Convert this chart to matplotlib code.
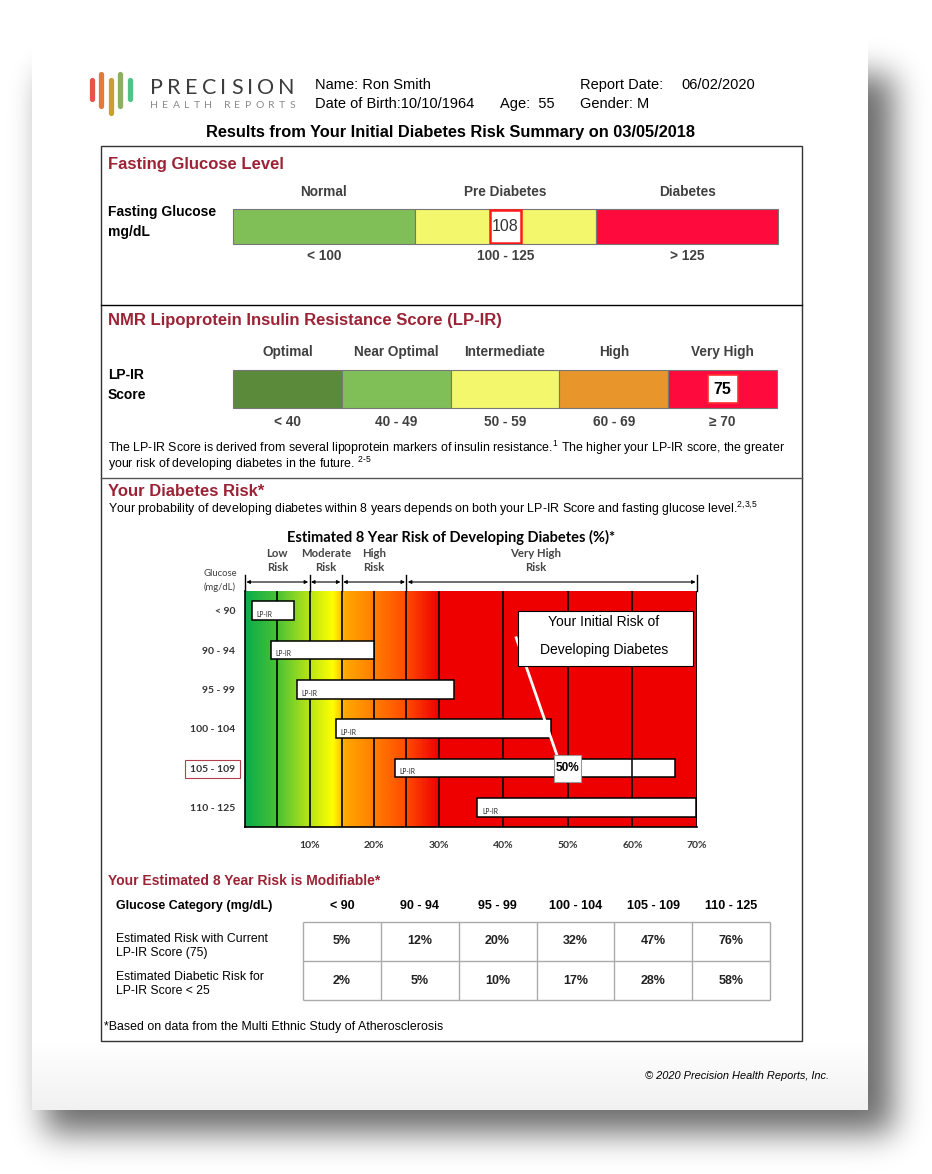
import numpy as np
import matplotlib
matplotlib.use('Agg')
import matplotlib.pyplot as plt
import matplotlib.patches as mpatches
import matplotlib.transforms as mtransforms
from matplotlib.colors import LinearSegmentedColormap

W, H = 932, 1174

# header data
patient_name = 'Ron Smith'
birth_date = '10/10/1964'
age = 55
report_date = '06/02/2020'
gender = 'M'
summary_date = '03/05/2018'

# fasting glucose gauge
glucose_cats = ['Normal', 'Pre Diabetes', 'Diabetes']
glucose_ranges = ['< 100', '100 - 125', '> 125']
glucose_colors = ['#80bf58', '#f2f76c', '#ff0a3c']
glucose_limits = [100, 126]
glucose_value = 108

# LP-IR gauge
lpir_cats = ['Optimal', 'Near Optimal', 'Intermediate', 'High', 'Very High']
lpir_ranges = ['< 40', '40 - 49', '50 - 59', '60 - 69', '\u2265 70']
lpir_colors = ['#5b8a3b', '#80bf58', '#f2f76c', '#e8952b', '#ff0a3c']
lpir_limits = [40, 50, 60, 70]
lpir_value = 75

# risk chart (% risk range of each glucose group)
risk_rows = ['< 90', '90 - 94', '95 - 99', '100 - 104', '105 - 109', '110 - 125']
risk_low = [1.1, 4.0, 8.0, 14.1, 23.2, 36.0]
risk_high = [7.6, 20.0, 32.3, 47.4, 66.6, 69.9]
risk_ticks = [10, 20, 30, 40, 50, 60, 70]
grid_pcts = [5, 10, 15, 20, 25, 30, 40, 50, 60, 70]
band_names = ['Low\nRisk', 'Moderate\nRisk', 'High\nRisk', 'Very High\nRisk']
band_edges = [0, 10, 15, 25, 70]
band_label_x = [5, 12.5, 20, 45]
patient_row = 4
patient_risk = 50

# modifiable risk table
risk_current = [5, 12, 20, 32, 47, 76]
risk_low_lpir = [2, 5, 10, 17, 28, 58]
table_rows = ['Estimated Risk with Current\nLP-IR Score (75)',
              'Estimated Diabetic Risk for\nLP-IR Score < 25']

plt.rcParams['font.family'] = ['Liberation Sans', 'DejaVu Sans']
plt.rcParams['mathtext.fontset'] = 'custom'
plt.rcParams['mathtext.rm'] = 'Liberation Sans'
plt.rcParams['mathtext.it'] = 'Liberation Sans:italic'
plt.rcParams['mathtext.bf'] = 'Liberation Sans:bold'
CAL = ['Lato', 'DejaVu Sans']
RED_T = '#9b2335'
GREY_T = '#404040'

fig = plt.figure(figsize=(W / 100, H / 100), dpi=100)
page = fig.add_axes([0, 0, 1, 1])
page.set_xlim(0, W)
page.set_ylim(H, 0)
page.axis('off')


def px_axes(x0, y0, x1, y1):
    return fig.add_axes([x0 / W, 1 - y1 / H, (x1 - x0) / W, (y1 - y0) / H])


# shadow of the sheet
def blur_step(n, a, b, sigma):
    x = np.arange(n)
    step = ((x >= a) & (x <= b)).astype(float)
    k = np.exp(-0.5 * (np.arange(-3 * sigma, 3 * sigma + 1) / sigma) ** 2)
    return np.convolve(step, k / k.sum(), mode='same')


shadow = np.outer(blur_step(H, 75, 1132, 16), blur_step(W, 45, 892, 16))
rgba = np.zeros((H, W, 4))
rgba[..., 3] = shadow * 0.58
page.imshow(rgba, extent=(0, W, H, 0), aspect='auto', zorder=0)
page.add_patch(mpatches.Rectangle((32, 32), 836, 1078, facecolor='white', edgecolor='none', zorder=1))
fade = np.zeros((70, 2, 4))
fade[..., :3] = 0.55
fade[..., 3] = np.linspace(0, 0.12, 70)[:, None]
page.imshow(fade, extent=(32, 868, 1110, 1040), aspect='auto', zorder=1.5)
page.set_xlim(0, W)
page.set_ylim(H, 0)

# logo
logo_x = [92, 101, 110.5, 120, 129.5]
logo_y = [(80, 99), (74, 106), (80, 113), (74, 106), (80, 99)]
logo_c = ['#e8524a', '#e07b3a', '#c9a030', '#8cb060', '#4fc486']
for x, (a, b), c in zip(logo_x, logo_y, logo_c):
    page.plot([x, x], [a, b], color=c, lw=3.8, solid_capstyle='round', zorder=3)

renderer = fig.canvas.get_renderer()


def spaced_text(x0, x1, y, s, **kw):
    ts = [page.text(0, y, ch, **kw) for ch in s]
    ws = [t.get_window_extent(renderer).width for t in ts]
    gap = (x1 - x0 - sum(ws)) / (len(s) - 1)
    x = x0
    for t, w in zip(ts, ws):
        t.set_x(x)
        x += w + gap


spaced_text(150, 295, 88, 'PRECISION', fontsize=15.5, family=CAL, color='#3c3c3c',
            va='center', ha='left', zorder=3)
spaced_text(150, 295, 105, 'HEALTH REPORTS', fontsize=7.5, family=CAL, color='#8a8a8a',
            va='center', ha='left', zorder=3)

hdr = dict(fontsize=10.5, va='center', ha='left', color='black', zorder=3)
page.text(315, 85, 'Name: ' + patient_name, **hdr)
page.text(315, 104, 'Date of Birth:' + birth_date, **hdr)
page.text(500, 104, 'Age:  %d' % age, **hdr)
page.text(580, 85, 'Report Date:', **hdr)
page.text(681, 85, report_date, **hdr)
page.text(580, 104, 'Gender: ' + gender, **hdr)
page.text(451, 132, 'Results from Your Initial Diabetes Risk Summary on ' + summary_date,
          fontsize=11.8, fontweight='bold', ha='center', va='center', zorder=3)

# main frame
page.add_patch(mpatches.Rectangle((101, 146), 701, 895, facecolor='none', edgecolor='#333333', lw=1, zorder=3))
page.plot([101, 802], [305, 305], color='black', lw=1, zorder=3)
page.plot([101, 802], [478, 478], color='#555555', lw=1, zorder=3)

sec = dict(fontsize=12, fontweight='bold', color=RED_T, ha='left', va='center', zorder=3)
page.text(108, 164, 'Fasting Glucose Level', **sec)
page.text(108, 321, 'NMR Lipoprotein Insulin Resistance Score (LP-IR)', **sec)
page.text(108, 492, 'Your Diabetes Risk*', **sec)

lab = dict(fontsize=10, fontweight='bold', color='black', ha='left', va='center', zorder=3)
page.text(108, 212, 'Fasting Glucose', **lab)
page.text(108, 232, 'mg/dL', **lab)
page.text(108, 375, 'LP-IR', **lab)
page.text(108, 395, 'Score', **lab)


def gauge(box, cats, ranges, colors, limits, value, head_y, range_y, vbox, vstyle):
    ax = px_axes(*box)
    n = len(cats)
    ax.barh(0, [1] * n, left=np.arange(n), height=1, color=colors,
            edgecolor='#777777', linewidth=0.8, clip_on=False)
    ax.set_xlim(0, n)
    ax.set_ylim(-0.5, 0.5)
    ax.axis('off')
    tr = mtransforms.blended_transform_factory(ax.transData, page.transData)
    for i in range(n):
        ax.text(i + 0.5, head_y, cats[i], transform=tr, fontsize=9.8, fontweight='bold',
                color=GREY_T, ha='center', va='center')
        ax.text(i + 0.5, range_y, ranges[i], transform=tr, fontsize=9.8, fontweight='bold',
                color=GREY_T, ha='center', va='center')
    k = np.searchsorted(limits, value, side='right')
    bw, bh, ec, lw = vbox
    ax.add_patch(mpatches.Rectangle((k + 0.5 - bw / 2, -bh / 2), bw, bh, facecolor='white',
                                    edgecolor=ec, lw=lw, zorder=4))
    ax.text(k + 0.5, 0, str(value), ha='center', va='center', zorder=5, **vstyle)


gauge((233, 209, 778, 244), glucose_cats, glucose_ranges, glucose_colors, glucose_limits,
      glucose_value, 192, 256, (0.176, 0.94, '#ff1a1a', 1.8),
      dict(fontsize=11.5, color='#333333'))
gauge((233, 370, 777, 408), lpir_cats, lpir_ranges, lpir_colors, lpir_limits,
      lpir_value, 352, 422, (0.276, 0.76, '#ff3030', 1.2),
      dict(fontsize=11.5, fontweight='bold', color='black'))

par = dict(fontsize=8.9, color='black', ha='left', va='center', zorder=3)
page.text(108, 448, 'The LP-IR Score is derived from several lipoprotein markers of insulin '
          'resistance.$^{\\text{1}}$ The higher your LP-IR score, the greater', **par)
page.text(108, 464, 'your risk of developing diabetes in the future. $^{\\text{2-5}}$', **par)
page.text(108, 509, 'Your probability of developing diabetes within 8 years depends on both your '
          'LP-IR Score and fasting glucose level.$^{\\text{2,3,5}}$', **par)

# risk chart
page.text(451, 537, 'Estimated 8 Year Risk of Developing Diabetes (%)*', family=CAL,
          fontsize=10.5, fontweight='bold', ha='center', va='center', zorder=3)
page.text(220, 574, 'Glucose', family=CAL, fontsize=6.8, color=GREY_T, ha='center', va='center', zorder=3)
page.text(220, 587, '(mg/dL)', family=CAL, fontsize=6.8, color=GREY_T, ha='center', va='center', zorder=3)

ax = px_axes(245, 591, 697, 827)
stops = [(0, '#0aad4a'), (5, '#4cc235'), (9, '#a6df1c'), (13.5, '#ffff00'), (15.5, '#ffa600'),
         (20, '#ff7d00'), (25, '#ff4a00'), (30, '#ee0000'), (70, '#ee0000')]
cmap = LinearSegmentedColormap.from_list('risk', [(p / 70, c) for p, c in stops])
ax.imshow(np.linspace(0, 1, 700)[None, :], cmap=cmap, extent=(0, 70, 5.5, -0.5),
          aspect='auto', zorder=0)
ax.vlines(grid_pcts, -0.5, 5.5, color='black', lw=1.2, zorder=1)
rows = np.arange(len(risk_rows))
ax.barh(rows, np.array(risk_high) - np.array(risk_low), left=risk_low, height=0.47,
        color='white', edgecolor='black', lw=1.1, zorder=3)
# the 60% gridline shows through the patient's bar
ax.vlines(60, patient_row - 0.235, patient_row + 0.235, color='black', lw=1.1, zorder=4)
for i, lo in enumerate(risk_low):
    ax.text(lo + 0.7, i + 0.1, 'LP-IR', family=CAL, fontsize=4.8, color='#222222',
            ha='left', va='center', zorder=4)
ax.set_xlim(0, 70)
ax.set_ylim(5.5, -0.5)
for s in ['top', 'right']:
    ax.spines[s].set_visible(False)
for s in ['left', 'bottom']:
    ax.spines[s].set_linewidth(1.2)
ax.set_xticks(risk_ticks)
ax.set_xticklabels(['%d%%' % t for t in risk_ticks], family=CAL, fontsize=7.5,
                   fontweight='bold', color='#333333')
ax.set_yticks(rows)
ax.set_yticklabels(risk_rows, family=CAL, fontsize=7.5, fontweight='bold', color='#333333')
ax.tick_params(axis='x', length=0, pad=10)
ax.tick_params(axis='y', length=0, pad=7)
ax.get_yticklabels()[patient_row].set_bbox(dict(boxstyle='square,pad=0.45', facecolor='none',
                                                edgecolor='#b04050', lw=0.8))

# risk bands with arrows
tr = mtransforms.blended_transform_factory(ax.transData, page.transData)
for name, xl in zip(band_names, band_label_x):
    ax.text(xl, 560.5, name, transform=tr, family=CAL, fontsize=8.2, fontweight='bold',
            color='#454545', ha='center', va='center', linespacing=1.3)
for a, b in zip(band_edges[:-1], band_edges[1:]):
    ax.annotate('', xy=(a, 582), xytext=(b, 582), xycoords=tr, textcoords=tr,
                arrowprops=dict(arrowstyle='<|-|>', color='black', lw=0.8, mutation_scale=5,
                                shrinkA=1, shrinkB=1))
for e in band_edges:
    ax.plot([e, e], [575, 591], transform=tr, color='black', lw=1, clip_on=False)

# callout
ax.plot([42.0, 48.3], [0.69, 3.67], color='white', lw=2, zorder=5)
ax.add_patch(mpatches.Rectangle((42.3, 0.02), 27.1, 1.38, facecolor='white', edgecolor='black',
                                lw=0.8, zorder=6))
ax.text(55.6, 0.3, 'Your Initial Risk of', fontsize=10, ha='center', va='center', zorder=7)
ax.text(55.6, 1.01, 'Developing Diabetes', fontsize=10, ha='center', va='center', zorder=7)
ax.add_patch(mpatches.Rectangle((patient_risk - 2.1, patient_row - 0.34), 4.15, 0.69,
                                facecolor='white', edgecolor='#999999', lw=0.8, zorder=6))
ax.text(patient_risk, patient_row, '%d%%' % patient_risk, fontsize=8.5, fontweight='bold',
        ha='center', va='center', zorder=7)

# table
page.text(108, 881, 'Your Estimated 8 Year Risk is Modifiable*', fontsize=10, fontweight='bold',
          color=RED_T, ha='left', va='center', zorder=3)
page.text(116, 906, 'Glucose Category (mg/dL)', fontsize=9, fontweight='bold', ha='left',
          va='center', zorder=3)
tax = px_axes(303, 922, 770, 1000)
ncol = len(risk_rows)
tax.set_xlim(0, ncol)
tax.set_ylim(2, 0)
tax.axis('off')
tax.vlines(np.arange(ncol + 1), 0, 2, color='#aaaaaa', lw=1, clip_on=False)
tax.hlines([0, 1, 2], 0, ncol, color='#aaaaaa', lw=1, clip_on=False)
ttr = mtransforms.blended_transform_factory(tax.transData, page.transData)
for j, c in enumerate(risk_rows):
    tax.text(j + 0.5, 906, c, transform=ttr, fontsize=9, fontweight='bold', ha='center', va='center')
    tax.text(j + 0.5, 0.5, '%d%%' % risk_current[j], fontsize=9, fontweight='bold',
             color='#222222', ha='center', va='center')
    tax.text(j + 0.5, 1.5, '%d%%' % risk_low_lpir[j], fontsize=9, fontweight='bold',
             color='#222222', ha='center', va='center')
page.text(116, 946, table_rows[0], fontsize=8.8, ha='left', va='center', linespacing=1.3, zorder=3)
page.text(116, 984, table_rows[1], fontsize=8.8, ha='left', va='center', linespacing=1.3, zorder=3)

page.text(104, 1027, '*Based on data from the Multi Ethnic Study of Atherosclerosis', fontsize=8.9,
          ha='left', va='center', zorder=3)
page.text(829, 1076, '\u00a9 2020 Precision Health Reports, Inc.', fontsize=7.9, style='italic',
          ha='right', va='center', zorder=3)

fig.savefig('out.png', dpi=100)
